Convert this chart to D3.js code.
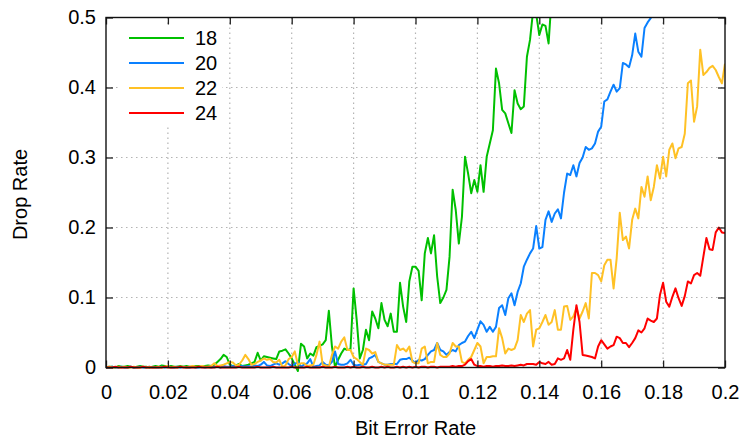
<!DOCTYPE html>
<html>
<head>
<meta charset="utf-8">
<script src="https://cdn.jsdelivr.net/npm/d3@7"></script>
<style>
  body { margin: 0; background: #fff; }
  svg { display: block; font-family: "Liberation Sans", Arial, sans-serif; }
</style>
</head>
<body>
<div id="chart"></div>
<script>
// drop rate vs bit error rate, sampled every 0.001 BER
var berStep = 0.001;

var green18 = [
  0, .001, .001, 0, .002, .001, .001, .002, .001, 0,
  .001, .002, .001, .001, 0, .001, .002, .001, .003, .002,
  .001, .002, .001, .001, .002, .001, .002, .001, .001, .002,
  .002, .001, .002, .003, .002, .004, .008, .012, .018, .015,
  .004, .002, .003, .005, .002, .003, .004, .006, .008, .021,
  .010, .016, .015, .014, .013, .012, .023, .024, .026, .020,
  .013, .004, -.005, .034, .030, .013, .020, .017, .029, .031,
  .033, .039, .081, .030, .001, .011, .020, .027, .025, .026,
  .113, .068, .013, .025, .054, .039, .080, .070, .056, .092,
  .068, .059, .077, .051, .051, .121, .087, .065, .123, .144,
  .144, .138, .096, .163, .185, .163, .189, .130, .092, .100,
  .111, .158, .254, .225, .177, .215, .301, .277, .249, .268,
  .251, .289, .251, .301, .320, .339, .427, .406, .368, .363,
  .349, .335, .396, .377, .369, .373, .444, .468, .510, .505,
  .475, .490, .488, .463, .530, .570
];

var blue20 = [
  0, 0, .001, 0, 0, .001, 0, 0, .001, 0,
  0, .001, 0, 0, .001, 0, 0, 0, .001, 0,
  .001, 0, 0, .001, 0, .001, 0, 0, .001, 0,
  0, .001, 0, .001, 0, .001, .001, 0, .002, .001,
  .001, .002, .001, .001, .002, .001, .002, .001, .003, .002,
  .004, .008, .003, .002, .004, .006, .004, .006, .009, .005,
  .002, .005, .008, .001, .004, .006, .012, .001, .002, .003,
  .008, .004, .003, .008, .023, .005, .004, .004, .006, .011,
  .004, .003, .004, .004, .005, .013, .015, .018, .008, .006,
  .004, .004, .005, .005, .005, .011, .012, .012, .014, .010,
  .006, .011, .010, .012, .018, .023, .025, .035, .025, .023,
  .018, .022, .025, .023, .032, .035, .037, .045, .051, .042,
  .054, .066, .061, .051, .058, .051, .058, .085, .089, .075,
  .099, .106, .089, .108, .120, .144, .154, .163, .170, .202,
  .170, .172, .211, .223, .208, .220, .226, .213, .250, .277,
  .275, .289, .273, .292, .300, .315, .311, .313, .320, .337,
  .344, .380, .383, .394, .404, .394, .399, .435, .433, .429,
  .446, .477, .451, .444, .485, .493, .499, .515, .540
];

var yellow22 = [
  0, .001, 0, 0, .001, 0, .001, 0, 0, .001,
  0, 0, .001, 0, .001, 0, 0, .001, 0, .001,
  .002, 0, .001, 0, .001, .001, 0, .001, .002, .001,
  .001, .002, .001, .001, .002, .006, .002, .003, .004, .006,
  .008, .007, .003, .004, .010, .018, .012, .004, .005, .008,
  .010, .013, .011, .012, .008, .007, .011, .001, .003, .012,
  .015, .023, .004, .006, .006, .002, .003, .004, .018, .037,
  .004, .003, .001, .018, .030, .027, .037, .043, .025, .025,
  .015, .012, .008, .004, .027, .025, .020, .022, .008, .006,
  .004, .004, .004, .004, .032, .025, .027, .023, .030, .008,
  .006, .006, .027, .030, .006, .008, .008, .035, .018, .015,
  .015, .020, .035, .030, .030, .008, .006, .011, .015, .025,
  .035, .030, .006, .015, .015, .016, .016, .056, .042, .020,
  .027, .025, .027, .039, .075, .065, .077, .082, .030, .054,
  .056, .065, .075, .061, .065, .082, .054, .054, .087, .088,
  .068, .073, .085, .070, .080, .092, .070, .135, .135, .132,
  .123, .146, .154, .154, .113, .156, .221, .182, .187, .170,
  .211, .227, .213, .258, .244, .273, .239, .258, .289, .270,
  .301, .273, .311, .320, .299, .313, .315, .334, .406, .410,
  .351, .373, .454, .418, .422, .428, .431, .425, .415, .406,
  .434
];

var red24 = [
  0, 0, 0, .001, 0, 0, 0, 0, .001, 0,
  0, 0, .001, 0, 0, 0, 0, 0, 0, .001,
  0, 0, 0, 0, .001, 0, 0, 0, 0, 0,
  .001, 0, 0, 0, 0, 0, .001, 0, 0, 0,
  0, 0, 0, .001, 0, 0, 0, 0, 0, .001,
  0, 0, 0, 0, .001, 0, 0, 0, 0, 0,
  .001, 0, 0, 0, 0, .001, 0, 0, 0, 0,
  .001, 0, 0, 0, .001, 0, 0, 0, .001, 0,
  .001, 0, 0, .001, 0, 0, .001, 0, 0, .001,
  0, .001, 0, 0, .001, 0, .001, 0, .001, 0,
  .001, 0, .001, .001, 0, .001, .001, 0, .001, .001,
  .001, .001, .002, .001, .002, .002, .004, .009, .012, .004,
  .002, .002, .001, .002, .002, .001, .002, .002, .003, .002,
  .002, .003, .002, .003, .004, .003, .005, .005, .005, .004,
  .008, .006, .005, .008, .004, .005, .013, .011, .013, .025,
  .011, .054, .089, .065, .018, .017, .016, .015, .013, .030,
  .039, .033, .027, .030, .032, .044, .042, .035, .035, .029,
  .035, .042, .053, .050, .056, .070, .067, .065, .070, .104,
  .121, .094, .087, .101, .113, .099, .088, .102, .123, .120,
  .132, .135, .131, .158, .185, .169, .168, .193, .200, .193,
  .192
];

var seriesNames = ['18', '20', '22', '24'];
var seriesColors = ['#00c000', '#0a80ff', '#ffc125', '#ff0000'];
var seriesValues = [green18, blue20, yellow22, red24];

var xTicks = [0, 0.02, 0.04, 0.06, 0.08, 0.1, 0.12, 0.14, 0.16, 0.18, 0.2];
var xTickLabels = ['0', '0.02', '0.04', '0.06', '0.08', '0.1', '0.12', '0.14', '0.16', '0.18', '0.2'];
var yTicks = [0, 0.1, 0.2, 0.3, 0.4, 0.5];
var yTickLabels = ['0', '0.1', '0.2', '0.3', '0.4', '0.5'];

var W = 743, H = 439;
var plot = { left: 106, right: 725, top: 17.5, bottom: 367.5 };
var fontSize = 20;

var svg = d3.select('#chart').append('svg')
  .attr('width', W).attr('height', H);

var x = d3.scaleLinear().domain([0, 0.2]).range([plot.left, plot.right]);
var y = d3.scaleLinear().domain([0, 0.5]).range([plot.bottom, plot.top]);

// grid
var grid = svg.append('g')
  .attr('stroke', '#b4b4b4')
  .attr('stroke-width', 1.2)
  .attr('stroke-dasharray', '1.5,3.5');

grid.selectAll('line.gx').data(xTicks.slice(1, -1)).enter().append('line')
  .attr('x1', function(d) { return x(d); })
  .attr('x2', function(d) { return x(d); })
  .attr('y1', plot.top).attr('y2', plot.bottom);

grid.selectAll('line.gy').data(yTicks.slice(1, -1)).enter().append('line')
  .attr('x1', plot.left).attr('x2', plot.right)
  .attr('y1', function(d) { return y(d); })
  .attr('y2', function(d) { return y(d); });

// legend background hides the grid behind it
svg.append('rect')
  .attr('x', 118).attr('y', 26)
  .attr('width', 104).attr('height', 99)
  .attr('fill', '#fff');

// data lines
svg.append('clipPath').attr('id', 'plotclip')
  .append('rect')
  .attr('x', plot.left).attr('y', plot.top)
  .attr('width', plot.right - plot.left)
  .attr('height', plot.bottom - plot.top + 10);

var line = d3.line()
  .x(function(d, i) { return x(i * berStep); })
  .y(function(d) { return y(d); });

var lines = svg.append('g').attr('clip-path', 'url(#plotclip)');
seriesValues.forEach(function(vals, k) {
  lines.append('path')
    .datum(vals)
    .attr('d', line)
    .attr('fill', 'none')
    .attr('stroke', seriesColors[k])
    .attr('stroke-width', 2)
    .attr('stroke-linejoin', 'round');
});

// axes, gnuplot style ticks inside the border
function styleAxis(g) {
  g.select('.domain').remove();
  g.selectAll('.tick line').attr('stroke', '#222').attr('stroke-width', 1.3);
  g.selectAll('.tick text')
    .attr('fill', '#000')
    .style('font-size', fontSize + 'px')
    .style('font-family', '"Liberation Sans", Arial, sans-serif');
}

svg.append('g')
  .attr('transform', 'translate(0,' + plot.bottom + ')')
  .call(d3.axisBottom(x).tickValues(xTicks)
    .tickFormat(function(d, i) { return xTickLabels[i]; })
    .tickSizeInner(-7).tickSizeOuter(0).tickPadding(17))
  .call(styleAxis);

svg.append('g')
  .attr('transform', 'translate(0,' + plot.top + ')')
  .call(d3.axisTop(x).tickValues(xTicks).tickFormat('')
    .tickSizeInner(-7).tickSizeOuter(0))
  .call(styleAxis);

svg.append('g')
  .attr('transform', 'translate(' + plot.left + ',0)')
  .call(d3.axisLeft(y).tickValues(yTicks)
    .tickFormat(function(d, i) { return yTickLabels[i]; })
    .tickSizeInner(-7).tickSizeOuter(0).tickPadding(10))
  .call(styleAxis);

svg.append('g')
  .attr('transform', 'translate(' + plot.right + ',0)')
  .call(d3.axisRight(y).tickValues(yTicks).tickFormat('')
    .tickSizeInner(-7).tickSizeOuter(0))
  .call(styleAxis);

// border
svg.append('rect')
  .attr('x', plot.left).attr('y', plot.top)
  .attr('width', plot.right - plot.left)
  .attr('height', plot.bottom - plot.top)
  .attr('fill', 'none')
  .attr('stroke', '#111')
  .attr('stroke-width', 1.4);

// legend
var legend = svg.append('g');
seriesNames.forEach(function(name, k) {
  var ly = 38 + k * 25;
  legend.append('line')
    .attr('x1', 129).attr('x2', 184)
    .attr('y1', ly).attr('y2', ly)
    .attr('stroke', seriesColors[k])
    .attr('stroke-width', 2);
  legend.append('text')
    .attr('x', 195).attr('y', ly)
    .attr('dy', '0.35em')
    .style('font-size', fontSize + 'px')
    .text(name);
});

// axis titles
svg.append('text')
  .attr('x', (plot.left + plot.right) / 2)
  .attr('y', 435)
  .attr('text-anchor', 'middle')
  .style('font-size', fontSize + 'px')
  .text('Bit Error Rate');

svg.append('text')
  .attr('transform', 'translate(27,' + ((plot.top + plot.bottom) / 2 + 2) + ') rotate(-90)')
  .attr('text-anchor', 'middle')
  .style('font-size', fontSize + 'px')
  .text('Drop Rate');
</script>
</body>
</html>
